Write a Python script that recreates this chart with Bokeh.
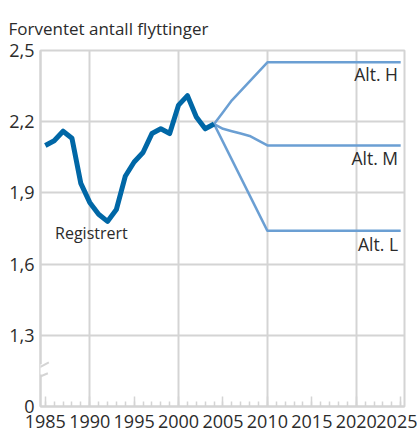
from bokeh.plotting import figure
from bokeh.models import (Range1d, FixedTicker, SingleIntervalTicker, Label,
                          Arrow, BoxAnnotation)
from bokeh.embed import file_html
from bokeh.resources import INLINE

# ---- data ----
hist_years = list(range(1985, 2005))
hist_vals = [2.10, 2.12, 2.16, 2.13, 1.94, 1.86, 1.81, 1.78, 1.83, 1.97,
             2.03, 2.07, 2.15, 2.17, 2.15, 2.27, 2.31, 2.22, 2.17, 2.19]

alt_h_years = [2004, 2005, 2006, 2007, 2008, 2009, 2010, 2025]
alt_h_vals = [2.19, 2.24, 2.29, 2.33, 2.37, 2.41, 2.45, 2.45]
alt_m_years = [2004, 2005, 2006, 2007, 2008, 2009, 2010, 2025]
alt_m_vals = [2.19, 2.17, 2.16, 2.15, 2.14, 2.12, 2.10, 2.10]
alt_l_years = [2004, 2010, 2025]
alt_l_vals = [2.19, 1.74, 1.74]

y_ticks = [1.0, 1.3, 1.6, 1.9, 2.2, 2.5]
y_tick_labels = ["0", "1,3", "1,6", "1,9", "2,2", "2,5"]
x_grid_years = [1990, 2000, 2010, 2020]

title_text = "Forventet antall flyttinger"
FONT = "Open Sans"
TXT = "#2b2b2b"
GRID = "#d4d4d4"
DARK = "#0067a6"
LIGHT = "#6b9fd3"

X0, X1 = 1984.46, 2025.43
Y0, Y1 = 1.0, 2.5

p = figure(width=417, height=431, output_backend="svg", toolbar_location=None,
           x_range=Range1d(X0, X1), y_range=Range1d(Y0, Y1),
           min_border_left=40, min_border_right=13, min_border_top=50,
           min_border_bottom=25, background_fill_color="white",
           border_fill_color="white")

p.title.text = title_text
p.title.text_font = FONT
p.title.text_font_size = "17px"
p.title.text_font_style = "normal"
p.title.text_color = TXT
p.title.align = "left"
p.title.offset = -32
p.title.standoff = 22

p.outline_line_color = GRID
p.outline_line_width = 2

# grids
p.xgrid.ticker = FixedTicker(ticks=x_grid_years)
p.xgrid.grid_line_color = GRID
p.xgrid.grid_line_width = 2
p.ygrid.ticker = FixedTicker(ticks=y_ticks[1:])
p.ygrid.grid_line_color = GRID
p.ygrid.grid_line_width = 2

# x axis
xa = p.xaxis[0]
xa.ticker = SingleIntervalTicker(interval=5, num_minor_ticks=5)
xa.major_tick_in = 10
xa.major_tick_out = 0
xa.minor_tick_in = 5
xa.minor_tick_out = 0
xa.major_tick_line_color = GRID
xa.minor_tick_line_color = GRID
xa.major_tick_line_width = 1.5
xa.minor_tick_line_width = 1.5
xa.axis_line_color = GRID
xa.axis_line_width = 2
xa.major_label_text_font = FONT
xa.major_label_text_font_size = "18px"
xa.major_label_text_color = TXT
xa.major_label_standoff = 8

# y axis
ya = p.yaxis[0]
ya.ticker = FixedTicker(ticks=y_ticks)
ya.major_label_overrides = {t: l for t, l in zip(y_ticks, y_tick_labels)}
ya.major_tick_in = 0
ya.major_tick_out = 0
ya.minor_tick_line_color = None
ya.axis_line_color = GRID
ya.axis_line_width = 2
ya.major_label_text_font = FONT
ya.major_label_text_font_size = "18px"
ya.major_label_text_color = TXT
ya.major_label_standoff = 6

# lines
for xs, ys in [(alt_h_years, alt_h_vals), (alt_m_years, alt_m_vals),
               (alt_l_years, alt_l_vals)]:
    p.line(xs, ys, line_color=LIGHT, line_width=2.5)
p.line(hist_years, hist_vals, line_color=DARK, line_width=5,
       line_join="round")

# labels
for txt, x, y, align in [("Alt. H", 2024.7, 2.40, "right"),
                         ("Alt. M", 2024.7, 2.046, "right"),
                         ("Alt. L", 2024.7, 1.684, "right"),
                         ("Registrert", 1986.1, 1.73, "left")]:
    p.add_layout(Label(x=x, y=y, text=txt, text_align=align,
                       text_baseline="middle", text_font=FONT,
                       text_font_size="17.5px" if txt != "Registrert" else "16px",
                       text_color=TXT))

# axis break
p.add_layout(BoxAnnotation(left=X0 - 0.3, right=X0 + 0.3, bottom=1.135,
                           top=1.178, fill_color="white", fill_alpha=1,
                           line_color=None, level="overlay"))
for (xa0, ya0, xa1, ya1) in [(1984.16, 1.161, 1985.4, 1.186),
                             (1983.71, 1.115, 1985.29, 1.140)]:
    p.add_layout(Arrow(end=None, x_start=xa0, y_start=ya0, x_end=xa1,
                       y_end=ya1, line_color=GRID, line_width=2,
                       level="overlay"))

open("out.html", "w").write(file_html(p, INLINE))
